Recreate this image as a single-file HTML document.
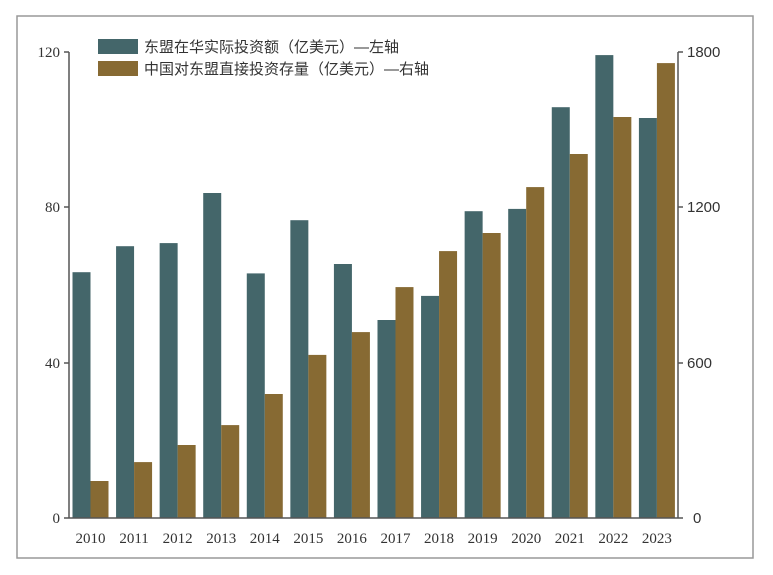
<!DOCTYPE html>
<html><head><meta charset="utf-8"><style>body{margin:0;background:#fff}</style></head><body>
<svg width="773" height="570" xmlns="http://www.w3.org/2000/svg" font-family="Liberation Serif, serif">
<rect x="17" y="16" width="736" height="542" fill="#fff" stroke="#999" stroke-width="1.5"/>
<g fill="#44666a">
<rect x="72.5" y="272.2" width="18" height="245.8"/>
<rect x="116.07" y="246.2" width="18" height="271.8"/>
<rect x="159.64" y="243.1" width="18" height="274.9"/>
<rect x="203.21" y="193" width="18" height="325"/>
<rect x="246.78" y="273.4" width="18" height="244.6"/>
<rect x="290.35" y="220.2" width="18" height="297.8"/>
<rect x="333.92" y="264" width="18" height="254"/>
<rect x="377.49" y="320" width="18" height="198"/>
<rect x="421.06" y="295.9" width="18" height="222.1"/>
<rect x="464.63" y="211.2" width="18" height="306.8"/>
<rect x="508.2" y="208.9" width="18" height="309.1"/>
<rect x="551.77" y="107.2" width="18" height="410.8"/>
<rect x="595.34" y="55.1" width="18" height="462.9"/>
<rect x="638.91" y="118" width="18" height="400"/>
</g>
<g fill="#876a33">
<rect x="90.5" y="481" width="18" height="37"/>
<rect x="134.07" y="462.1" width="18" height="55.9"/>
<rect x="177.64" y="445" width="18" height="73"/>
<rect x="221.21" y="425.1" width="18" height="92.9"/>
<rect x="264.78" y="394" width="18" height="124"/>
<rect x="308.35" y="354.9" width="18" height="163.1"/>
<rect x="351.92" y="332.1" width="18" height="185.9"/>
<rect x="395.49" y="287.1" width="18" height="230.9"/>
<rect x="439.06" y="251.1" width="18" height="266.9"/>
<rect x="482.63" y="233" width="18" height="285"/>
<rect x="526.2" y="187.1" width="18" height="330.9"/>
<rect x="569.77" y="154" width="18" height="364"/>
<rect x="613.34" y="117" width="18" height="401"/>
<rect x="656.91" y="63.1" width="18" height="454.9"/>
</g>
<line x1="69" y1="52" x2="69" y2="518" stroke="#555" stroke-width="1.5"/>
<line x1="678" y1="52" x2="678" y2="518" stroke="#555" stroke-width="1.5"/>
<line x1="64" y1="518" x2="683" y2="518" stroke="#555" stroke-width="1.5"/>
<g stroke="#555" stroke-width="1.5">
<line x1="64" y1="52" x2="69" y2="52"/><line x1="64" y1="207" x2="69" y2="207"/><line x1="64" y1="363" x2="69" y2="363"/>
<line x1="678" y1="52" x2="683" y2="52"/><line x1="678" y1="207" x2="683" y2="207"/><line x1="678" y1="363" x2="683" y2="363"/>
</g>
<g font-size="15" fill="#333" text-anchor="end">
<text x="60" y="57">120</text><text x="60" y="212">80</text><text x="60" y="368">40</text><text x="60" y="523">0</text>
</g>
<g font-size="15" fill="#333" font-family="Liberation Sans, sans-serif">
<text x="687" y="57">1800</text><text x="687" y="212">1200</text><text x="687" y="368">600</text><text x="693" y="523">0</text>
</g>
<g font-size="15" fill="#333" text-anchor="middle">
<text x="90.5" y="543">2010</text><text x="134.07" y="543">2011</text><text x="177.64" y="543">2012</text><text x="221.21" y="543">2013</text><text x="264.78" y="543">2014</text><text x="308.35" y="543">2015</text><text x="351.92" y="543">2016</text><text x="395.49" y="543">2017</text><text x="439.06" y="543">2018</text><text x="482.63" y="543">2019</text><text x="526.2" y="543">2020</text><text x="569.77" y="543">2021</text><text x="613.34" y="543">2022</text><text x="656.91" y="543">2023</text>
</g>
<rect x="98" y="39" width="40" height="15" fill="#44666a"/>
<rect x="98" y="61" width="40" height="15" fill="#876a33"/>
<g font-size="15" fill="#333" font-family="Liberation Sans, Noto Sans CJK SC, sans-serif">
<text x="144" y="52">东盟在华实际投资额（亿美元）—左轴</text>
<text x="144" y="74">中国对东盟直接投资存量（亿美元）—右轴</text>
</g>
</svg>
</body></html>
